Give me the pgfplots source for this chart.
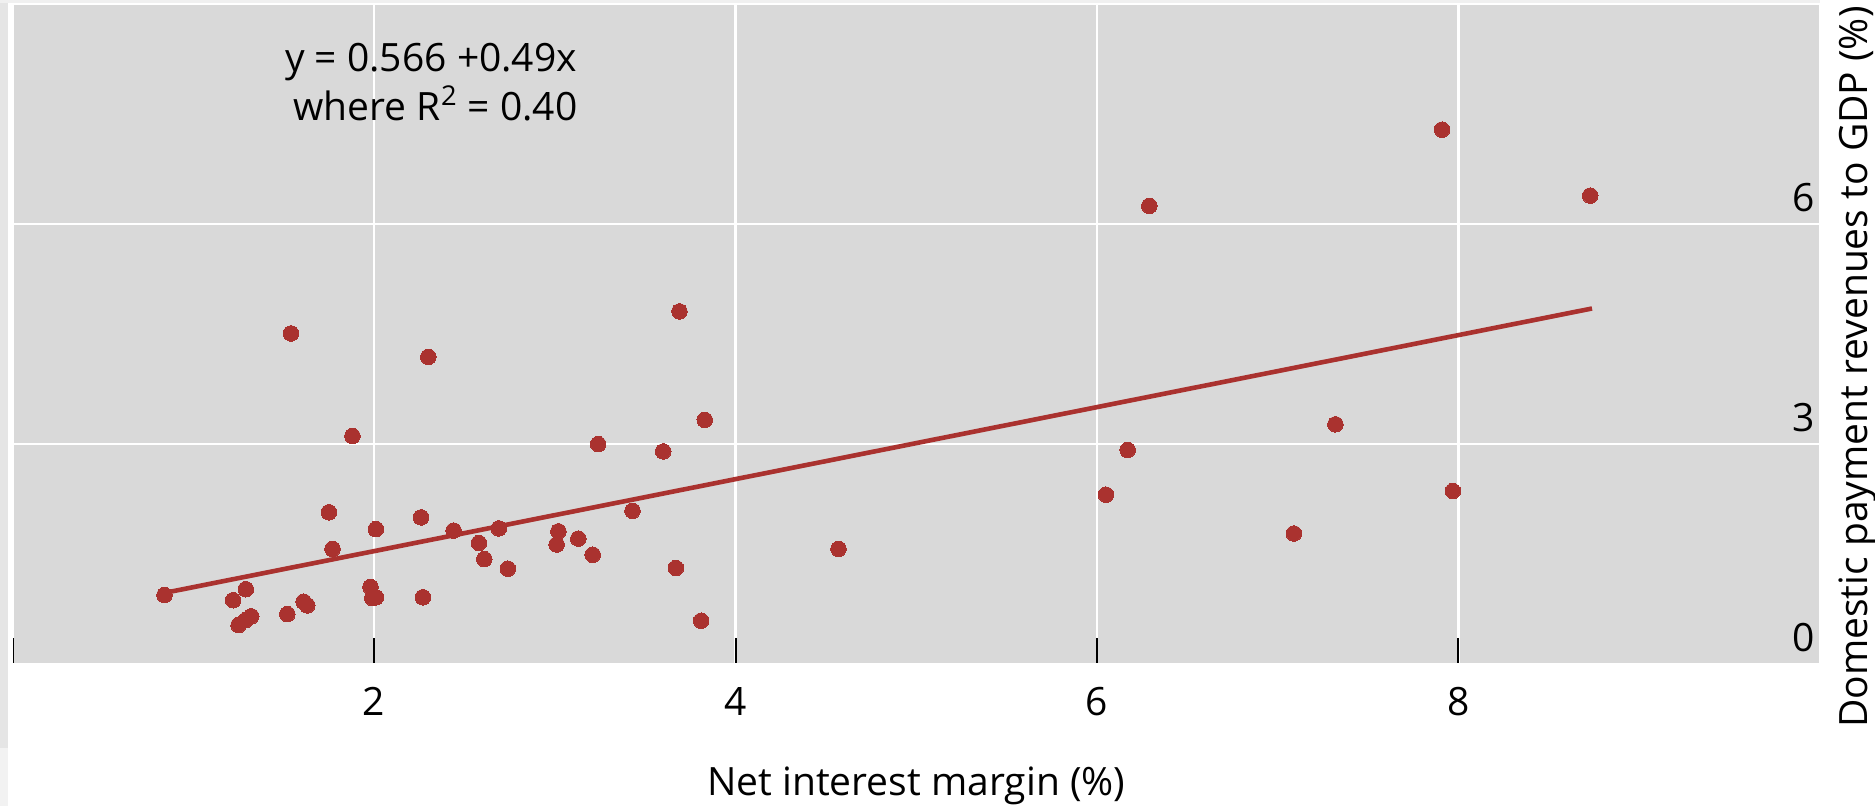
\documentclass[border=0pt]{standalone}
\usepackage{fontspec}
\setmainfont{Open Sans}
\usepackage{pgfplots}
\pgfplotsset{compat=1.18}
\definecolor{pt}{RGB}{170,50,47}
\definecolor{bg}{RGB}{217,217,217}
\newcommand{\fs}{\fontsize{19.5}{24}\selectfont}
\begin{document}
\begin{tikzpicture}
\useasboundingbox (-6.35pt,-71pt) rectangle (931.15pt,332pt);
\fill[black!10] (-6.35pt,-42pt) rectangle (-2.2pt,332pt);
\fill[black!5] (-6.35pt,-71pt) rectangle (-2.2pt,-42pt);
\fill[black!6] (-6.35pt,330.5pt) rectangle (903.65pt,332pt);
\begin{axis}[
  scale only axis, width=903.5pt, height=329.85pt,
  xmin=0, xmax=10, ymin=0, ymax=9,
  clip=false,
  axis background/.style={fill=bg},
  axis line style={white, line width=0.6pt},
  xtick={0,2,4,6,8}, xticklabels={,2,4,6,8},
  ytick={0,3,6}, yticklabels={0,3,6},
  grid=major, major grid style={white, line width=1.2pt},
  tick align=inside, xtick pos=bottom, yticklabel pos=right,
  major tick length=13pt,
  xtick style={black, line width=1pt},
  ytick style={draw=none},
  xticklabel style={anchor=north, inner sep=0pt, yshift=-11.5pt, font=\fs},
  yticklabel style={anchor=south east, inner sep=0pt, xshift=-2.5pt, yshift=6pt, font=\fs},
]
\addplot[pt, line width=2.3pt] coordinates {(0.84,0.97) (8.74,4.85)};
\addplot[pt, only marks, mark=*, mark size=3.9pt, mark options={fill=pt, draw=pt, line width=0pt}] coordinates {
(0.84,0.94) (1.22,0.87) (1.29,1.02) (1.25,0.53) (1.29,0.60) (1.32,0.65)
(1.52,0.68) (1.61,0.85) (1.63,0.80) (1.54,4.51) (1.75,2.07) (1.77,1.57)
(1.88,3.11) (1.98,1.05) (1.99,0.90) (2.01,0.91) (2.01,1.84) (2.26,2.00)
(2.27,0.91) (2.30,4.19) (2.44,1.82) (2.58,1.65) (2.61,1.43) (2.69,1.85)
(2.74,1.30) (3.02,1.81) (3.01,1.63) (3.13,1.71) (3.21,1.49) (3.24,3.00)
(3.43,2.09) (3.60,2.90) (3.67,1.31) (3.69,4.81) (3.81,0.59) (3.83,3.33)
(4.57,1.57) (6.05,2.31) (6.17,2.92) (6.29,6.25) (7.09,1.78) (7.32,3.27)
(7.91,7.29) (7.97,2.36) (8.73,6.39)
};
\node[anchor=base, font=\fs, inner sep=0pt] at (axis cs:2.315,8.09) {y = 0.566 +0.49x};
\node[anchor=base, font=\fs, inner sep=0pt] at (axis cs:2.34,7.42) {where R\textsuperscript{2} = 0.40};
\node[anchor=base, font=\fs, inner sep=0pt] at (axis cs:5,-1.80) {Net interest margin (\%)};
\node[anchor=base, rotate=90, font=\fs, inner sep=0pt] at (axis cs:10.262,4.05) {Domestic payment revenues to GDP (\%)};
\end{axis}
\end{tikzpicture}
\end{document}
